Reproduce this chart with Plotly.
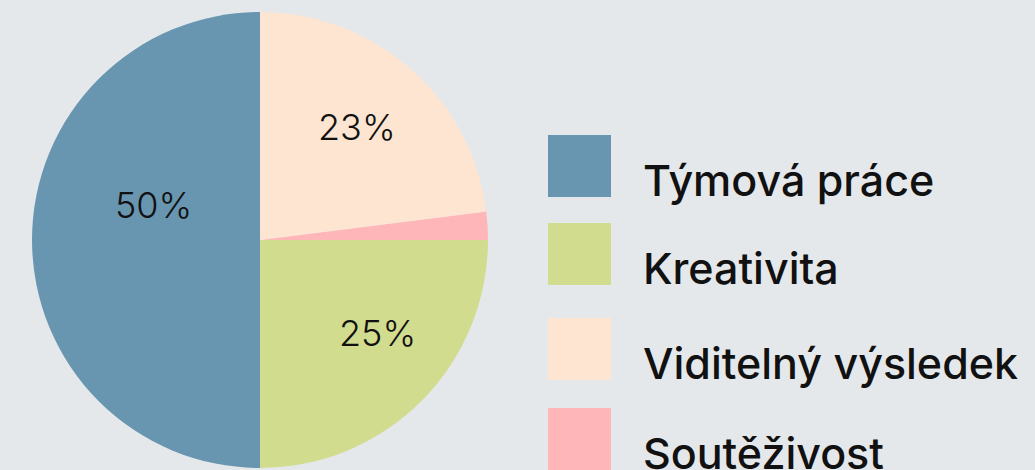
import plotly.graph_objects as go

# slice order around the pie (counterclockwise from the top)
labels = ["Týmová práce", "Kreativita", "Soutěživost", "Viditelný výsledek"]
values = [50, 25, 2, 23]
colors = ["#6896b0", "#d2dc8f", "#ffb6b9", "#fde5d2"]

# legend order as shown on the right
legend_labels = ["Týmová práce", "Kreativita", "Viditelný výsledek", "Soutěživost"]

# percentage labels that are printed on the pie
pct_labels = ["50%", "25%", "23%"]

W, H = 1035, 470
FONT = "Inter"

fig = go.Figure()
fig.add_trace(
    go.Pie(
        labels=labels,
        values=values,
        sort=False,
        direction="counterclockwise",
        rotation=180,
        marker=dict(colors=colors, line=dict(width=0)),
        textinfo="none",
        hoverinfo="label+percent",
        showlegend=False,
        domain=dict(x=[32 / W, 488 / W], y=[2 / H, 458 / H]),
    )
)

color_of = dict(zip(labels, colors))

# percent label placement (pixels)
pct_pos = {"50%": (153, 205), "25%": (377, 333), "23%": (357, 127)}
for t in pct_labels:
    px, py = pct_pos[t]
    fig.add_annotation(
        x=px / W, y=1 - py / H, xref="paper", yref="paper",
        xanchor="center", yanchor="middle",
        text=t, showarrow=False,
        font=dict(family=FONT, size=36, color="#111111", weight=300),
    )

# custom legend with large swatches
legend_y = [166, 254, 349, 439]
for name, cy in zip(legend_labels, legend_y):
    fig.add_shape(
        type="rect", xref="paper", yref="paper",
        x0=548 / W, x1=611 / W, y0=1 - (cy + 31) / H, y1=1 - (cy - 31) / H,
        fillcolor=color_of[name], line=dict(width=0), layer="above",
    )
    fig.add_annotation(
        x=641 / W, y=1 - (cy + 14) / H, xref="paper", yref="paper",
        xanchor="left", yanchor="middle", text=name, showarrow=False,
        font=dict(family=FONT, size=43, color="#111111", weight=500),
    )

fig.update_layout(
    width=W,
    height=H,
    margin=dict(l=0, r=0, t=0, b=0),
    paper_bgcolor="#e5e8eb",
    plot_bgcolor="#e5e8eb",
)

fig.write_html(
    "out.html",
    config={"displayModeBar": False},
    post_script="document.body.style.margin='0';",
)
